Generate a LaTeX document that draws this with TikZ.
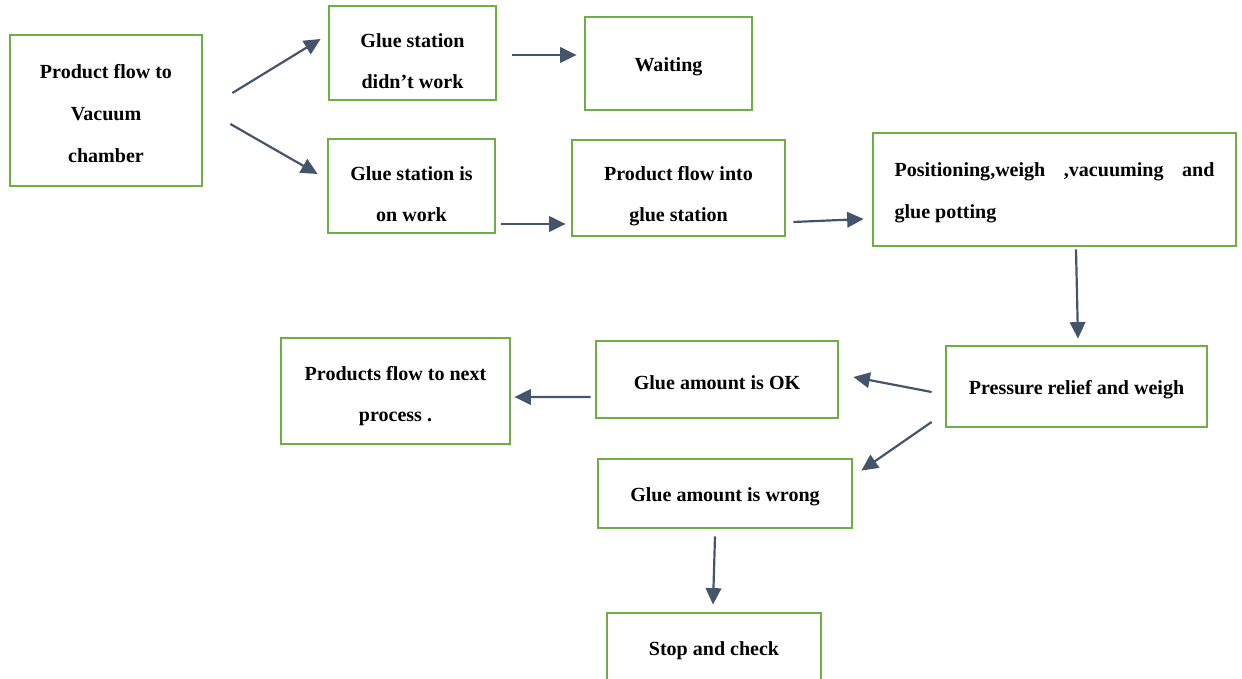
\documentclass[tikz,border=0pt]{standalone}
\usepackage{fontspec}
\setmainfont{Liberation Serif}
\usetikzlibrary{arrows.meta}
\definecolor{boxgreen}{HTML}{70AD47}
\definecolor{arrowblue}{HTML}{44546A}
\newcommand{\tallstrut}[1][17pt]{\rule{0pt}{#1}}

\begin{document}
\begin{tikzpicture}[x=0.02cm, y=-0.02cm,
    box/.style={draw=boxgreen, line width=1.6pt, align=center, inner sep=0pt,
        font=\fontsize{11.4}{23.5}\selectfont\bfseries,
        execute at begin node={\rule{0pt}{11.5pt}}},
    flow/.style={draw=arrowblue, line width=1.25pt,
        -{Triangle[length=3.3mm,width=3.1mm]}}]
    \useasboundingbox (0,0) rectangle (1242,679);

    % Boxes
    \node[box, minimum width=3.84cm, minimum height=3.02cm] (chamber) at (106,110.5)
        {\tallstrut[11.5pt]Product flow to\\[0.5pt]Vacuum\\[0.5pt]chamber};
    \node[box, minimum width=3.34cm, minimum height=1.88cm] (notwork) at (412.5,53)
        {\tallstrut Glue station\\didn't work};
    \node[box, minimum width=3.34cm, minimum height=1.86cm] (waiting) at (668.5,63.5)
        {Waiting};
    \node[box, minimum width=3.34cm, minimum height=1.88cm] (onwork) at (411.5,186)
        {\tallstrut Glue station is\\on work};
    \node[box, minimum width=4.26cm, minimum height=1.92cm] (into) at (678.5,188)
        {\tallstrut Product flow into\\glue station};
    \node[box, minimum width=7.26cm, minimum height=2.26cm, text width=6.4cm, align=justify] (potting) at (1054.5,189.5)
        {Positioning,weigh\hfill,vacuuming\hfill and\\glue potting};
    \node[box, minimum width=5.22cm, minimum height=1.62cm] (relief) at (1076.5,386.5)
        {Pressure relief and weigh};
    \node[box, minimum width=4.84cm, minimum height=1.54cm] (ok) at (717,379.5)
        {Glue amount is OK};
    \node[box, minimum width=4.58cm, minimum height=2.12cm] (next) at (395.5,391)
        {\tallstrut[14pt]Products flow to next\\process .};
    \node[box, minimum width=5.08cm, minimum height=1.38cm] (wrong) at (725,493.5)
        {Glue amount is wrong};
    \node[box, minimum width=4.28cm, minimum height=1.40cm] (stop) at (714,648)
        {Stop and check};

    % Arrows
    \draw[flow] ([shift={(29,-17.5)}]chamber.east) -- ([shift={(-7,-14)}]notwork.west);
    \draw[flow] ([shift={(27,13.5)}]chamber.east) -- ([shift={(-9,-12)}]onwork.west);
    \draw[flow] ([shift={(15,2)}]notwork.east) -- ([shift={(-7,-8.5)}]waiting.west);
    \draw[flow] ([shift={(5,38)}]onwork.east) -- ([shift={(-5,36)}]into.west);
    \draw[flow] ([shift={(7,34)}]into.east) -- ([shift={(-8,29.5)}]potting.west);
    \draw[flow] ([shift={(21.5,2)}]potting.south) -- ([shift={(1.5,-6)}]relief.north);
    \draw[flow] ([shift={(-13,5.5)}]relief.west) -- ([shift={(14,-2.5)}]ok.east);
    \draw[flow] ([shift={(-13,35.5)}]relief.west) -- ([shift={(8,13)}]wrong.north east);
    \draw[flow] ([shift={(-4,17.5)}]ok.west) -- ([shift={(3,6)}]next.east);
    \draw[flow] ([shift={(-10,7)}]wrong.south) -- ([shift={(-1,-7)}]stop.north);
\end{tikzpicture}
\end{document}
